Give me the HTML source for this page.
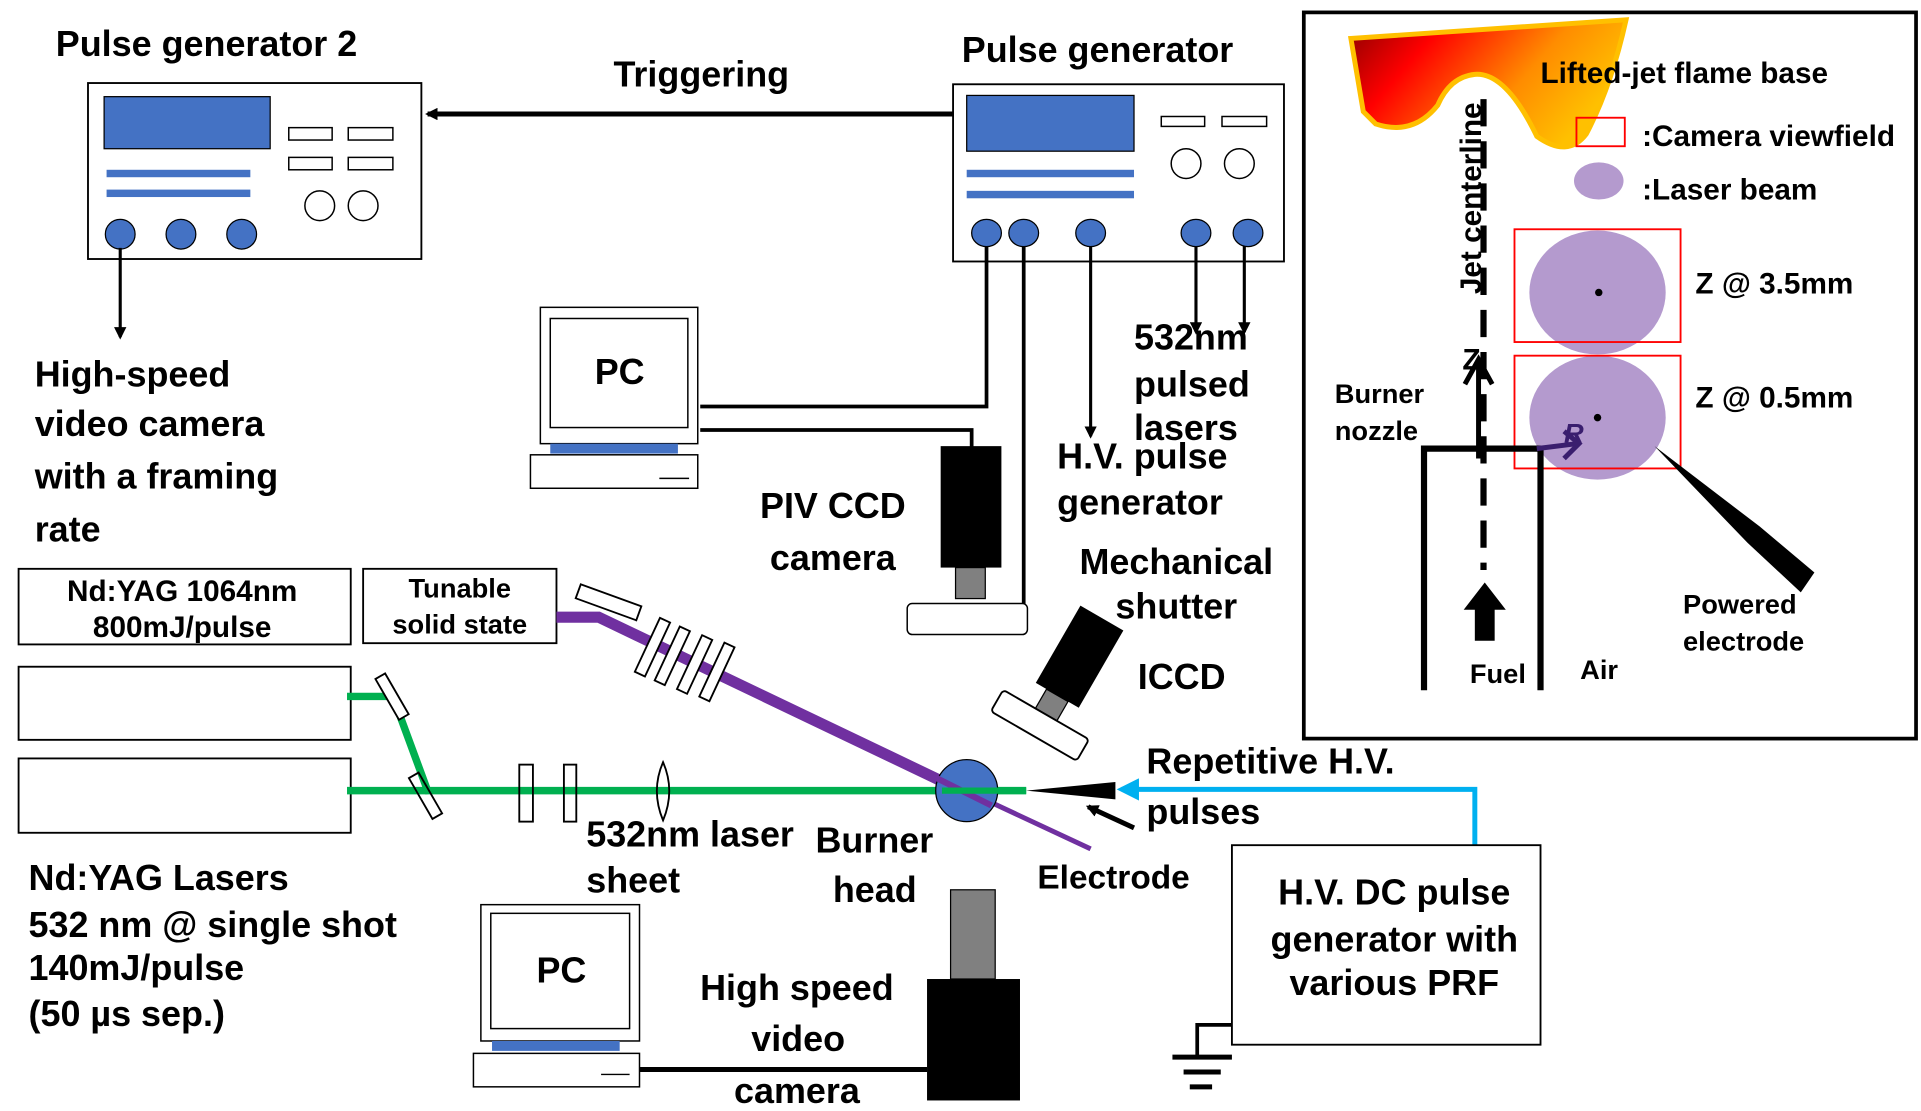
<!DOCTYPE html>
<html><head><meta charset="utf-8"><style>
html,body{margin:0;padding:0;background:#fff;}
svg{display:block;}
text{font-family:"Liberation Sans",Arial,sans-serif;font-weight:bold;fill:#000;}
.b{font-size:29px;}
.m{font-size:24px;}
.s{font-size:22px;}
</style></head><body>
<svg width="1921" height="1111" viewBox="0 0 1550 896.5" preserveAspectRatio="none" xmlns="http://www.w3.org/2000/svg">
<defs>
<marker id="ah" markerWidth="10" markerHeight="10" refX="8" refY="5" orient="auto" markerUnits="userSpaceOnUse"><path d="M0,0 L10,5 L0,10 z" fill="#000"/></marker>
<marker id="ahb" markerWidth="18" markerHeight="18" refX="14" refY="9" orient="auto" markerUnits="userSpaceOnUse"><path d="M0,0 L18,9 L0,18 z" fill="#00B0F0"/></marker>
<linearGradient id="fl" x1="0" y1="0" x2="1" y2="0.4"><stop offset="0" stop-color="#8B0000"/><stop offset="0.3" stop-color="#FF0000"/><stop offset="0.7" stop-color="#FF8C00"/><stop offset="1" stop-color="#FFC000"/></linearGradient>
</defs>

<!-- Pulse generator 2 -->
<text class="b" x="45" y="45">Pulse generator 2</text>
<rect x="71" y="67" width="269" height="142" fill="#fff" stroke="#000" stroke-width="1.5"/>
<rect x="84" y="78" width="134" height="42" fill="#4472C4" stroke="#000" stroke-width="1"/>
<rect x="86" y="137" width="116" height="6" fill="#4472C4"/>
<rect x="86" y="153" width="116" height="6" fill="#4472C4"/>
<g fill="#fff" stroke="#000" stroke-width="1.2">
<rect x="233" y="103" width="35" height="10"/><rect x="281" y="103" width="36" height="10"/>
<rect x="233" y="127" width="35" height="10"/><rect x="281" y="127" width="36" height="10"/>
<ellipse cx="258" cy="166" rx="12" ry="12"/><ellipse cx="293" cy="166" rx="12" ry="12"/>
</g>
<g fill="#4472C4" stroke="#000" stroke-width="1"><ellipse cx="97" cy="189" rx="12" ry="12"/><ellipse cx="146" cy="189" rx="12" ry="12"/><ellipse cx="195" cy="189" rx="12" ry="12"/></g>
<line x1="97" y1="200" x2="97" y2="272" stroke="#000" stroke-width="2.5" marker-end="url(#ah)"/>
<text class="b" x="28" y="312">High-speed</text>
<text class="b" x="28" y="352">video camera</text>
<text class="b" x="28" y="394">with  a framing</text>
<text class="b" x="28" y="437">rate</text>

<text class="b" x="495" y="70">Triggering</text>
<line x1="772" y1="92" x2="345" y2="92" stroke="#000" stroke-width="4" marker-end="url(#ah)"/>

<!-- Pulse generator -->
<text class="b" x="776" y="50">Pulse generator</text>
<rect x="769" y="68" width="267" height="143" fill="#fff" stroke="#000" stroke-width="1.5"/>
<rect x="780" y="77" width="135" height="45" fill="#4472C4" stroke="#000" stroke-width="1"/>
<rect x="780" y="137" width="135" height="6" fill="#4472C4"/>
<rect x="780" y="154" width="135" height="6" fill="#4472C4"/>
<g fill="#fff" stroke="#000" stroke-width="1.2">
<rect x="937" y="94" width="35" height="8"/><rect x="986" y="94" width="36" height="8"/>
<ellipse cx="957" cy="132" rx="12" ry="12"/><ellipse cx="1000" cy="132" rx="12" ry="12"/>
</g>
<g stroke="#000" stroke-width="3" fill="none">
<polyline points="796,195 796,328 565,328"/>
<line x1="826" y1="195" x2="826" y2="490"/>
<polyline points="565,347 784,347 784,362"/>
</g>
<line x1="880" y1="195" x2="880" y2="352" stroke="#000" stroke-width="2.5" marker-end="url(#ah)"/>
<line x1="965" y1="195" x2="965" y2="268" stroke="#000" stroke-width="2.5" marker-end="url(#ah)"/>
<line x1="1004" y1="195" x2="1004" y2="268" stroke="#000" stroke-width="2.5" marker-end="url(#ah)"/>
<g fill="#4472C4" stroke="#000" stroke-width="1"><ellipse cx="796" cy="188" rx="12" ry="11"/><ellipse cx="826" cy="188" rx="12" ry="11"/><ellipse cx="880" cy="188" rx="12" ry="11"/><ellipse cx="965" cy="188" rx="12" ry="11"/><ellipse cx="1007" cy="188" rx="12" ry="11"/></g>
<text class="b" x="915" y="282">532nm</text>
<text class="b" x="915" y="320">pulsed</text>
<text class="b" x="915" y="355">lasers</text>
<text class="b" x="853" y="378">H.V. pulse</text>
<text class="b" x="853" y="415">generator</text>

<!-- PC 1 -->
<rect x="436" y="248" width="127" height="110" fill="#fff" stroke="#000" stroke-width="1.2"/>
<rect x="444" y="257" width="111" height="88" fill="#fff" stroke="#000" stroke-width="1.2"/>
<rect x="444" y="358" width="103" height="8" fill="#4472C4"/>
<rect x="428" y="367" width="135" height="27" fill="#fff" stroke="#000" stroke-width="1.2"/>
<line x1="532" y1="386" x2="556" y2="386" stroke="#000" stroke-width="1.2"/>
<text class="b" x="500" y="310" text-anchor="middle">PC</text>

<!-- PIV camera -->
<rect x="759" y="360" width="49" height="98" fill="#000"/>
<rect x="771" y="458" width="24" height="25" fill="#808080" stroke="#000"/>
<rect x="732" y="487" width="97" height="25" rx="4" fill="#fff" stroke="#000" stroke-width="1.2"/>
<text class="b" x="672" y="418" text-anchor="middle">PIV CCD</text>
<text class="b" x="672" y="460" text-anchor="middle">camera</text>
<text class="b" x="871" y="463">Mechanical</text>
<text class="b" x="900" y="499">shutter</text>

<!-- ICCD -->
<g transform="translate(826,572) rotate(30)">
<rect x="-2" y="-95" width="40" height="72" fill="#000"/>
<rect x="8" y="-23" width="20" height="18" fill="#808080" stroke="#000"/>
<rect x="-22" y="-5" width="80" height="20" rx="3" fill="#fff" stroke="#000" stroke-width="1.5"/>
</g>
<text class="b" x="918" y="556">ICCD</text>

<!-- Lasers -->
<rect x="15" y="459" width="268" height="61" fill="#fff" stroke="#000" stroke-width="1.5"/>
<text class="m" x="147" y="485" text-anchor="middle">Nd:YAG 1064nm</text>
<text class="m" x="147" y="514" text-anchor="middle">800mJ/pulse</text>
<rect x="293" y="459" width="156" height="60" fill="#fff" stroke="#000" stroke-width="1.5"/>
<text class="s" x="371" y="482" text-anchor="middle">Tunable</text>
<text class="s" x="371" y="511" text-anchor="middle">solid state</text>
<rect x="15" y="538" width="268" height="59" fill="#fff" stroke="#000" stroke-width="1.5"/>
<rect x="15" y="612" width="268" height="60" fill="#fff" stroke="#000" stroke-width="1.5"/>

<!-- purple beam -->
<polyline points="449,498 483,498 780,640" fill="none" stroke="#7030A0" stroke-width="9"/>
<line x1="775" y1="636" x2="880" y2="685" stroke="#7030A0" stroke-width="4"/>
<rect x="465" y="480" width="52" height="12" transform="rotate(20 491 486)" fill="#fff" stroke="#000" stroke-width="1.5"/>
<g fill="#fff" stroke="#000" stroke-width="1.5">
<rect x="522" y="498" width="9" height="48" transform="rotate(25 526 522)"/>
<rect x="538" y="505" width="9" height="48" transform="rotate(25 542 529)"/>
<rect x="556" y="512" width="9" height="48" transform="rotate(25 560 536)"/>
<rect x="574" y="518" width="9" height="48" transform="rotate(25 578 542)"/>
</g>

<!-- green beam -->
<polyline points="280,562 317,562 345,638 828,638" fill="none" stroke="#00B050" stroke-width="6"/>
<line x1="280" y1="638" x2="345" y2="638" stroke="#00B050" stroke-width="6"/>
<rect x="311" y="542" width="9" height="38" transform="rotate(-30 318 560)" fill="#fff" stroke="#000" stroke-width="1.5"/>
<rect x="338" y="622" width="9" height="38" transform="rotate(-30 345 640)" fill="none" stroke="#000" stroke-width="1.5"/>
<rect x="419" y="617" width="11" height="46" fill="none" stroke="#000" stroke-width="1.5"/>
<rect x="455" y="617" width="10" height="46" fill="none" stroke="#000" stroke-width="1.5"/>
<path d="M535,615 Q525,638 535,662 Q545,638 535,615 z" fill="none" stroke="#000" stroke-width="1.5"/>
<ellipse cx="780" cy="638" rx="25" ry="25" fill="#4472C4" stroke="#000" stroke-width="1"/>
<polyline points="449,498 483,498 780,640" fill="none" stroke="#7030A0" stroke-width="9" opacity="0"/>
<line x1="740" y1="620" x2="800" y2="650" stroke="#7030A0" stroke-width="5"/>
<line x1="760" y1="638" x2="828" y2="638" stroke="#00B050" stroke-width="5"/>

<!-- electrode -->
<path d="M828,638 L900,631 L900,645 z" fill="#000"/>
<line x1="915" y1="668" x2="878" y2="651" stroke="#000" stroke-width="4" marker-end="url(#ah)"/>
<polyline points="1190,683 1190,637 905,637" fill="none" stroke="#00B0F0" stroke-width="4" marker-end="url(#ahb)"/>
<text class="b" x="925" y="624">Repetitive H.V.</text>
<text class="b" x="925" y="665">pulses</text>
<text class="m" x="837" y="717" style="font-size:27px">Electrode</text>

<rect x="994" y="682" width="249" height="161" fill="#fff" stroke="#000" stroke-width="1.5"/>
<text class="b" x="1125" y="730" text-anchor="middle">H.V. DC pulse</text>
<text class="b" x="1125" y="768" text-anchor="middle">generator with</text>
<text class="b" x="1125" y="803" text-anchor="middle">various PRF</text>
<polyline points="994,827 966,827 966,852" fill="none" stroke="#000" stroke-width="3"/>
<line x1="946" y1="853" x2="994" y2="853" stroke="#000" stroke-width="4"/>
<line x1="955" y1="865" x2="985" y2="865" stroke="#000" stroke-width="4"/>
<line x1="960" y1="877" x2="978" y2="877" stroke="#000" stroke-width="4"/>

<text class="b" x="473" y="683">532nm laser</text>
<text class="b" x="473" y="720">sheet</text>
<text class="b" x="658" y="688">Burner</text>
<text class="b" x="672" y="728">head</text>

<text class="b" x="23" y="718">Nd:YAG Lasers</text>
<text class="b" x="23" y="756">532 nm @ single shot</text>
<text class="b" x="23" y="791">140mJ/pulse</text>
<text class="b" x="23" y="828">(50 µs sep.)</text>

<!-- PC 2 -->
<rect x="388" y="730" width="128" height="110" fill="#fff" stroke="#000" stroke-width="1.2"/>
<rect x="396" y="737" width="112" height="93" fill="#fff" stroke="#000" stroke-width="1.2"/>
<rect x="397" y="840" width="103" height="8" fill="#4472C4"/>
<rect x="382" y="850" width="134" height="27" fill="#fff" stroke="#000" stroke-width="1.2"/>
<line x1="485" y1="867" x2="508" y2="867" stroke="#000" stroke-width="1.2"/>
<text class="b" x="453" y="793" text-anchor="middle">PC</text>
<line x1="516" y1="863" x2="748" y2="863" stroke="#000" stroke-width="4"/>
<rect x="767" y="718" width="36" height="72" fill="#808080" stroke="#000"/>
<rect x="748" y="790" width="75" height="98" fill="#000"/>
<text class="b" x="643" y="807" text-anchor="middle">High speed</text>
<text class="b" x="644" y="848" text-anchor="middle">video</text>
<text class="b" x="643" y="890" text-anchor="middle">camera</text>

<!-- Inset -->
<rect x="1052" y="10" width="494" height="586" fill="#fff" stroke="#000" stroke-width="3"/>
<path d="M1090,31 L1312,16 Q1300,70 1280,108 Q1265,128 1240,110 Q1215,58 1190,60 Q1170,62 1160,85 Q1140,110 1110,100 L1100,90 z" fill="url(#fl)" stroke="#FFC000" stroke-width="4"/>
<text class="m" x="1243" y="67">Lifted-jet flame base</text>
<rect x="1272" y="95" width="39" height="23" fill="none" stroke="#FF0000" stroke-width="1.5"/>
<text class="m" x="1325" y="118">:Camera viewfield</text>
<ellipse cx="1290" cy="146" rx="20" ry="15" fill="#B49ACE"/>
<text class="m" x="1325" y="161">:Laser beam</text>
<ellipse cx="1289" cy="236" rx="55" ry="50" fill="#B49ACE"/>
<ellipse cx="1289" cy="337" rx="55" ry="50" fill="#B49ACE"/>
<rect x="1222" y="185" width="134" height="91" fill="none" stroke="#FF0000" stroke-width="1.5"/>
<rect x="1222" y="287" width="134" height="91" fill="none" stroke="#FF0000" stroke-width="1.5"/>
<circle cx="1290" cy="236" r="3" fill="#000"/><circle cx="1289" cy="337" r="3" fill="#000"/>
<text class="m" x="1368" y="237">Z @ 3.5mm</text>
<text class="m" x="1368" y="329">Z @ 0.5mm</text>
<line x1="1197" y1="80" x2="1197" y2="460" stroke="#000" stroke-width="5" stroke-dasharray="22,12"/>
<line x1="1193" y1="370" x2="1193" y2="290" stroke="#000" stroke-width="4"/>
<polyline points="1182,310 1193,290 1204,310" fill="none" stroke="#000" stroke-width="4"/>
<text class="m" x="1195" y="160" transform="rotate(-90 1195 160)" text-anchor="middle" dy="0">Jet centerline</text>
<text class="m" x="1180" y="298">Z</text>
<polyline points="1149,557 1149,362 1243,362 1243,557" fill="none" stroke="#000" stroke-width="5"/>
<line x1="1240" y1="362" x2="1272" y2="358" stroke="#3A1E6E" stroke-width="4"/>
<polyline points="1262,348 1274,358 1262,370" fill="none" stroke="#3A1E6E" stroke-width="4"/>
<text class="s" x="1262" y="357" style="font-style:italic;fill:#3A1E6E">R</text>
<path d="M1181,492 L1198,470 L1215,492 L1206,492 L1206,517 L1190,517 L1190,492 z" fill="#000"/>
<text class="s" x="1186" y="551">Fuel</text>
<text class="s" x="1275" y="548">Air</text>
<text class="s" x="1077" y="325">Burner</text>
<text class="s" x="1077" y="355">nozzle</text>
<path d="M1335,360 L1420,425 L1464,462 L1453,478 L1410,438 z" fill="#000"/>
<text class="s" x="1358" y="495">Powered</text>
<text class="s" x="1358" y="525">electrode</text>
</svg>
</body></html>
